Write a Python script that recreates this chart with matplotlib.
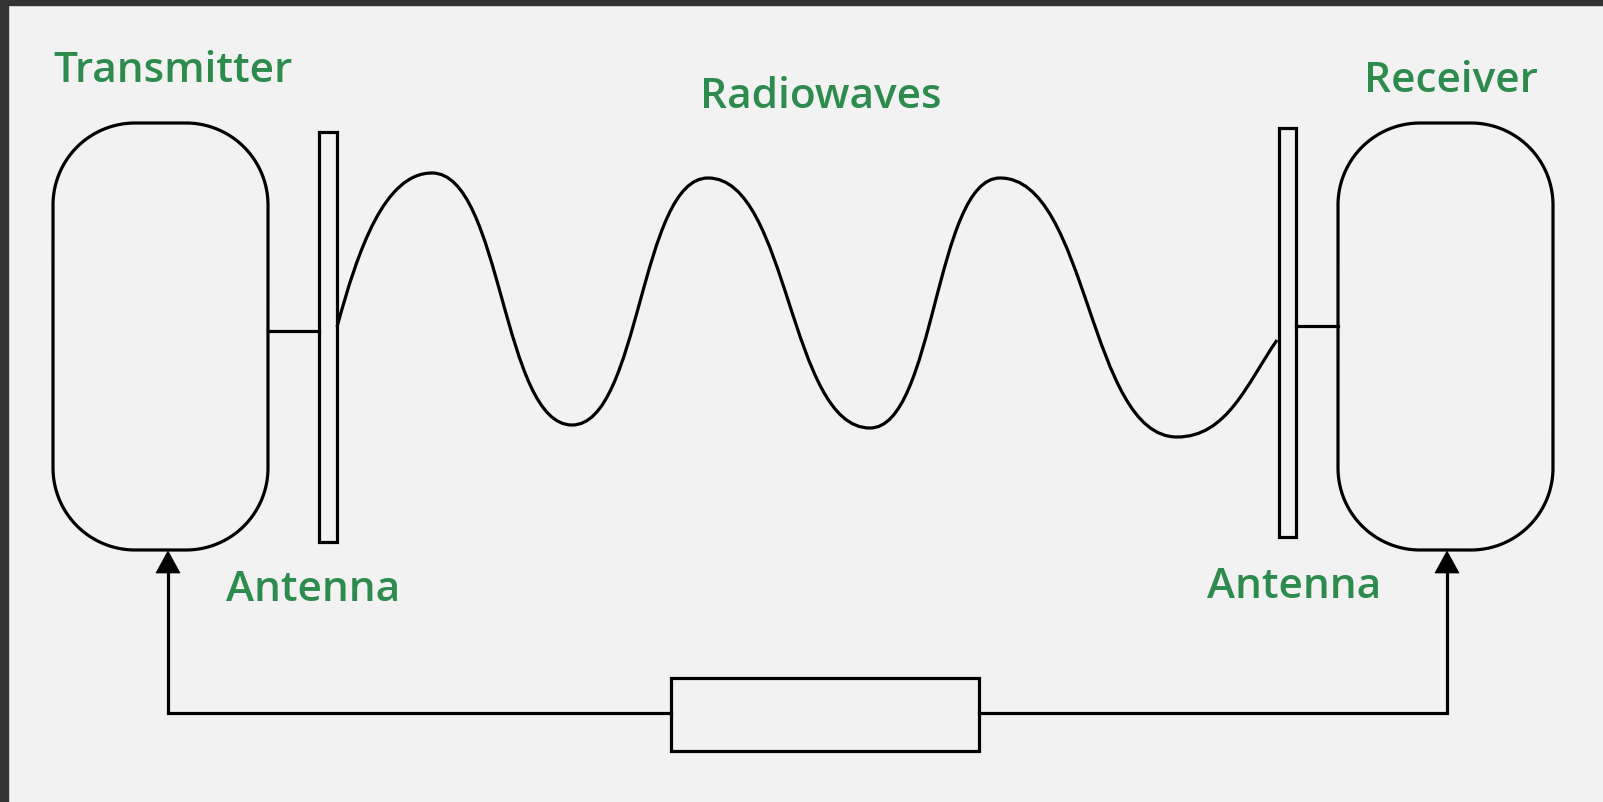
import numpy as np
import matplotlib.pyplot as plt
from matplotlib.patches import Rectangle, PathPatch, Polygon
from matplotlib.path import Path

# diagram layout in pixel units (origin top-left)
W, H = 1603, 802
bg = '#f2f2f2'
green = '#2e8b4e'
lw = 2.3

# boxes: (x, y, w, h)
boxes = [(53, 123, 215, 427), (1338, 123, 215, 427)]
box_radius = 82
antennas = [(319, 132, 18, 410), (1279, 128, 17, 409)]
connectors = [((268, 319), (331, 331)), ((1296, 1338), (326, 326))]

# wave extrema (x, y) from left antenna to right antenna
wave_x = [337, 432, 572, 708, 870, 1000, 1177, 1277]
wave_y = [327, 173, 425, 178, 428, 178, 437, 340]

labels = ['Transmitter', 'Radiowaves', 'Receiver', 'Antenna', 'Antenna']
label_x = [53, 700, 1364, 226, 1207]
label_y = [82, 108, 92, 601, 598]

# feedback loop
loop_y = 713
arrow_x = [168, 1447]
arrow_tip = 551
arrow_len = 22
arrow_half = 12
mid_box = (671, 678, 308, 73)


def rounded_box(x, y, w, h, r):
    # closed path with true circular corners
    pts = []
    corners = [(x + w - r, y + r, -90, 0), (x + w - r, y + h - r, 0, 90),
               (x + r, y + h - r, 90, 180), (x + r, y + r, 180, 270)]
    for cx, cy, a0, a1 in corners:
        t = np.radians(np.linspace(a0, a1, 60))
        pts += list(zip(cx + r * np.cos(t), cy + r * np.sin(t)))
    pts.append(pts[0])
    return Path(pts)


fig = plt.figure(figsize=(W / 100, H / 100), dpi=100)
fig.patch.set_facecolor(bg)
ax = fig.add_axes([0, 0, 1, 1])
ax.set_xlim(0, W)
ax.set_ylim(H, 0)
ax.axis('off')

# dark frame on top and left
ax.add_patch(Rectangle((0, 0), W, 5, color='#333333', zorder=5))
ax.add_patch(Rectangle((0, 0), 8, H, color='#333333', zorder=5))

for x, y, w, h in boxes:
    ax.add_patch(PathPatch(rounded_box(x, y, w, h, box_radius), fc='none', ec='black',
                           lw=lw, joinstyle='round'))
for x, y, w, h in antennas:
    ax.add_patch(Rectangle((x, y), w, h, fc='none', ec='black', lw=lw))
for xs, ys in connectors:
    ax.plot(xs, ys, color='black', lw=lw)

# wave as bezier segments with flat tangents at the extrema
verts = [(wave_x[0], wave_y[0])]
codes = [Path.MOVETO]
n = len(wave_x)
for i in range(n - 1):
    x0, y0, x1, y1 = wave_x[i], wave_y[i], wave_x[i + 1], wave_y[i + 1]
    dx = x1 - x0
    if i == 0:
        c1 = (x0 + 0.22 * dx, y0 - 0.5 * (y0 - y1))
    else:
        c1 = (x0 + 0.5 * dx, y0)
    if i == n - 2:
        c2 = (x1 - 0.3 * dx, y1 + 0.45 * (y0 - y1))
    else:
        c2 = (x1 - 0.5 * dx, y1)
    verts += [c1, c2, (x1, y1)]
    codes += [Path.CURVE4] * 3
ax.add_patch(PathPatch(Path(verts, codes), fc='none', ec='black', lw=lw))

# feedback loop with the middle block
bx, by, bw, bh = mid_box
ax.add_patch(Rectangle((bx, by), bw, bh, fc='none', ec='black', lw=lw))
ax.plot([arrow_x[0], arrow_x[0], bx], [arrow_tip + arrow_len, loop_y, loop_y],
        color='black', lw=lw, solid_joinstyle='miter')
ax.plot([bx + bw, arrow_x[1], arrow_x[1]], [loop_y, loop_y, arrow_tip + arrow_len],
        color='black', lw=lw, solid_joinstyle='miter')
for x in arrow_x:
    ax.add_patch(Polygon([(x, arrow_tip), (x - arrow_half, arrow_tip + arrow_len),
                          (x + arrow_half, arrow_tip + arrow_len)], closed=True,
                         fc='black', ec='black', lw=0.5))

for t, x, y in zip(labels, label_x, label_y):
    ax.text(x, y, t, color=green, fontsize=30.5, fontweight=600,
            family='Open Sans', ha='left', va='baseline')

fig.savefig('out.png', dpi=100, facecolor=bg)
